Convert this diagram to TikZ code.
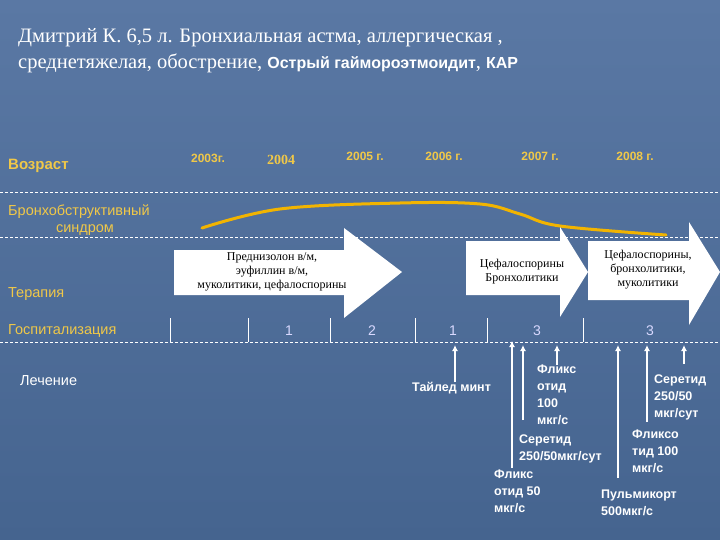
\documentclass[tikz,border=0pt]{standalone}
\usepackage{fontspec}
\setmainfont{Liberation Serif}
\setsansfont{Liberation Sans}
\usetikzlibrary{arrows.meta}
\begin{document}
\begin{tikzpicture}[x=1pt,y=-1pt,
  yl/.style={font=\sffamily\fontsize{14.5}{16}\selectfont, text=ylw, anchor=west, inner sep=0},
  yr/.style={font=\sffamily\bfseries\fontsize{12}{14}\selectfont, text=ylw, inner sep=0},
  wt/.style={font=\sffamily\bfseries\fontsize{12.5}{17}\selectfont, text=white, anchor=north west, align=left, inner sep=0},
  num/.style={font=\sffamily\fontsize{14}{15}\selectfont, text=white!85!blue, inner sep=0},
  dl/.style={white, dashed, dash pattern=on 3pt off 2pt, line width=0.8pt},
  arr/.style={white, line width=1.6pt, -{Latex[length=6pt,width=6pt]}},
  big/.style={fill=white, draw=none},
  atext/.style={font=\fontsize{12}{14}\selectfont, align=center, inner sep=0}]
\definecolor{bg1}{HTML}{5A78A4}\definecolor{bg2}{HTML}{45648F}
\definecolor{ylw}{HTML}{F0C848}\definecolor{crv}{HTML}{F2B400}
\shade[top color=bg1,bottom color=bg2] (0,0) rectangle (720,540);
\useasboundingbox (0,0) rectangle (720,540);
\node[anchor=west,text=white,font=\fontsize{20.5}{22}\selectfont,inner sep=0] (t1) at (18,38) {Дмитрий К. 6,5 л. Бронхиальная астма, аллергическая ,};
\node[anchor=west,text=white,font=\fontsize{20.5}{22}\selectfont,inner sep=0] (t2) at (18,63) {среднетяжелая, обострение, {\sffamily\bfseries\fontsize{16}{18}\selectfont Острый гаймороэтмоидит}, {\sffamily\bfseries\fontsize{16}{18}\selectfont КАР}};
% lines
\coordinate (l1a) at (0,192); \coordinate (l1b) at (720,192);
\coordinate (l2a) at (0,237); \coordinate (l2b) at (720,237);
\coordinate (l3a) at (0,342); \coordinate (l3b) at (720,342);
\draw[dl] (l1a)--(l1b); \draw[dl] (l2a)--(l2b); \draw[dl] (l3a)--(l3b);
\foreach \x in {170,248,330,415,487,583}{\draw[white,line width=0.8pt] (\x,318)--(\x,342);}
% labels
\node[yl,font=\sffamily\bfseries\fontsize{15}{16}\selectfont] (va) at (8,166) {Возраст};
\node[yl] (bs) at (8,212) {Бронхобструктивный};
\node[yl,anchor=center] (sd) at (85,230) {синдром};
\node[yl] (tr) at (8,294) {Терапия};
\node[yl] (gs) at (8,331) {Госпитализация};
\node[yl,text=white] (lc) at (20,381) {Лечение};
% years
\node[yr] (y3) at (208,158) {2003г.};
\node[yr,font=\bfseries\fontsize{14}{15}\selectfont] (y4) at (281,160) {2004};
\node[yr] (y5) at (365,156) {2005 г.};
\node[yr] (y6) at (444,156) {2006 г.};
\node[yr] (y7) at (540,156) {2007 г.};
\node[yr] (y8) at (635,156) {2008 г.};
% curve
\draw[crv,line width=3pt,line cap=round] plot[smooth,tension=0.6] coordinates {(202,228) (280,209) (400,203) (480,204) (520,214) (560,226) (666,235)};
% big arrows
\fill[big] (174,250)--(344,250)--(344,228)--(402,272)--(344,318)--(344,295)--(174,295)--cycle;
\fill[big] (466,241)--(560,241)--(560,227)--(588,272)--(560,317)--(560,295)--(466,295)--cycle;
\fill[big] (588,241)--(689,241)--(689,222)--(720,272)--(689,325)--(689,300)--(588,300)--cycle;
\node[atext] (a1) at (272,272) {Преднизолон в/м,\\эуфиллин в/м,\\муколитики, цефалоспорины};
\node[atext] (a2) at (522,272) {Цефалоспорины\\Бронхолитики};
\node[atext] (a3) at (648,270) {Цефалоспорины,\\бронхолитики,\\муколитики};
% hospital numbers
\node[num] (h1) at (289,331) {1};
\node[num] (h2) at (372,331) {2};
\node[num] (h3) at (453,331) {1};
\node[num] (h4) at (537,331) {3};
\node[num] (h5) at (650,331) {3};
% treatment texts
\node[wt] (m1) at (412,382) {Тайлед минт};
\node[wt] (m2) at (537,365) {Фликс\\отид\\100\\мкг/с};
\node[wt] (m3) at (519,435) {Серетид\\250/50мкг/сут};
\node[wt] (m4) at (494,470) {Фликс\\отид 50\\мкг/с};
\node[wt] (m5) at (654,375) {Серетид\\250/50\\мкг/сут};
\node[wt] (m6) at (632,430) {Фликсо\\тид 100\\мкг/с};
\node[wt] (m7) at (601,490) {Пульмикорт\\500мкг/с};
% small arrows
\coordinate (s1a) at (455,382); \coordinate (s1b) at (455,345);
\coordinate (s2a) at (512,468); \coordinate (s2b) at (512,341);
\coordinate (s3a) at (523,420); \coordinate (s3b) at (523,345);
\coordinate (s4a) at (557,365); \coordinate (s4b) at (557,345);
\coordinate (s5a) at (618,478); \coordinate (s5b) at (618,345);
\coordinate (s6a) at (647,422); \coordinate (s6b) at (647,345);
\coordinate (s7a) at (684,364); \coordinate (s7b) at (684,345);
\foreach \i in {1,...,7}{\draw[arr] (s\i a)--(s\i b);}
\end{tikzpicture}
\end{document}
